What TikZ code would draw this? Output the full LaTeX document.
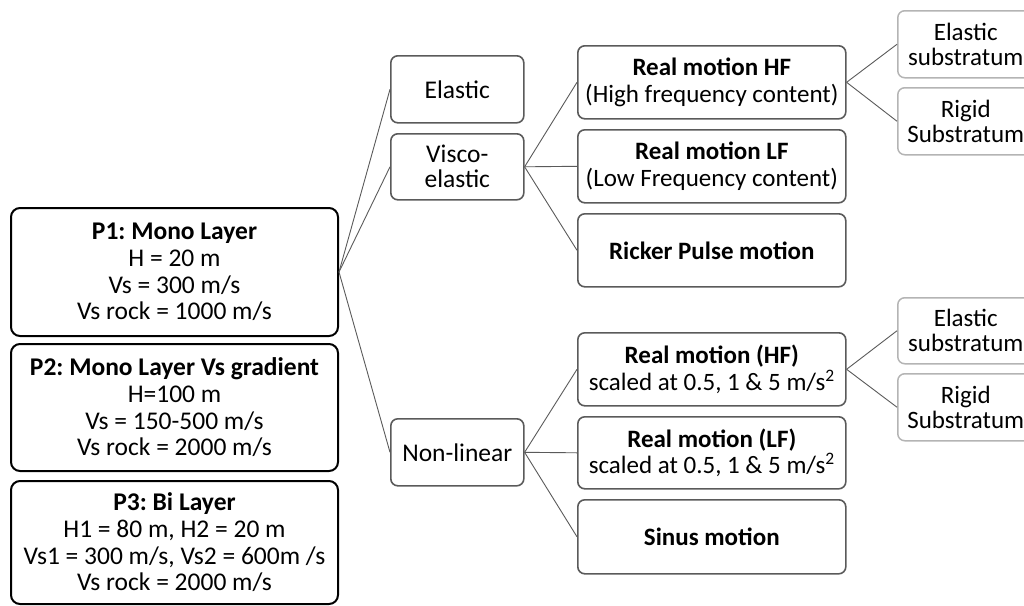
\documentclass[tikz,border=0pt]{standalone}
\usepackage{fontspec}
\setmainfont{Carlito}
\frenchspacing
\usepackage{tikz}
\usetikzlibrary{calc}
\definecolor{boxgray}{HTML}{5A5A5A}
\definecolor{lightgray}{HTML}{B4B4B4}
\tikzstyle{profile} = [rectangle, rounded corners=9pt, draw=black, line width=2pt, minimum width=327pt, minimum height=128pt, align=center, font=\fontsize{25.5}{26.7}\selectfont]
\tikzstyle{law} = [rectangle, rounded corners=7pt, draw=boxgray, line width=1.6pt, minimum width=133pt, minimum height=67pt, align=center, font=\fontsize{25.5}{25}\selectfont]
\tikzstyle{motion} = [rectangle, rounded corners=7pt, draw=boxgray, line width=1.6pt, minimum width=268pt, minimum height=73pt, align=center, font=\fontsize{25}{26.7}\selectfont]
\tikzstyle{base} = [rectangle, rounded corners=7pt, draw=lightgray, line width=1.5pt, minimum width=136pt, minimum height=67pt, align=center, font=\fontsize{25}{25}\selectfont]
\tikzstyle{link} = [draw=boxgray, line width=0.9pt]

\begin{document}
\begin{tikzpicture}[x=1pt, y=-1pt]

        \useasboundingbox (0,0) rectangle (1024,605);

        \node (p1) [profile, anchor=north west] at (10,207) {\textbf{P1: Mono Layer}\\H = 20 m\\Vs = 300 m/s\\Vs rock = 1000 m/s};
        \node (p2) [profile, anchor=north west, minimum height=127pt] at (10,343) {\textbf{P2: Mono Layer Vs gradient}\\H=100 m\\Vs = 150-500 m/s\\Vs rock = 2000 m/s};
        \node (p3) [profile, anchor=north west, minimum height=123pt] at (10,480) {\textbf{P3: Bi Layer}\\H1 = 80 m, H2 = 20 m\\Vs1 = 300 m/s, Vs2 = 600m /s\\Vs rock = 2000 m/s};

        \node (elastic) [law, anchor=north west] at (390,55) {Elastic};
        \node (visco) [law, anchor=north west, minimum height=66pt] at (390,133) {Visco-\\elastic};
        \node (nonlin) [law, anchor=north west] at (390,418) {Non-linear};

        \node (rhf) [motion, anchor=north west] at (577,45) {\textbf{Real motion HF}\\(High frequency content)};
        \node (rlf) [motion, anchor=north west] at (577,129) {\textbf{Real motion LF}\\(Low Frequency content)};
        \node (ricker) [motion, anchor=north west] at (577,213) {\textbf{Ricker Pulse motion}};

        \node (nhf) [motion, anchor=north west] at (577,332) {\textbf{Real motion (HF)}\\scaled at 0.5, 1 \& 5 m/s\textsuperscript{2}};
        \node (nlf) [motion, anchor=north west, minimum height=72pt] at (577,416) {\textbf{Real motion (LF)}\\scaled at 0.5, 1 \& 5 m/s\textsuperscript{2}};
        \node (sinus) [motion, anchor=north west, minimum height=74pt] at (577,499) {\textbf{Sinus motion}};

        \node (esub1) [base, anchor=north west] at (897,10) {Elastic\\substratum};
        \node (rsub1) [base, anchor=north west] at (897,87) {Rigid\\Substratum};
        \node (esub2) [base, anchor=north west, minimum height=66pt] at (897,297) {Elastic\\substratum};
        \node (rsub2) [base, anchor=north west] at (897,373) {Rigid\\Substratum};

        \draw [link] (p1.east) -- (elastic.west);
        \draw [link] (p1.east) -- (visco.west);
        \draw [link] (p1.east) -- (nonlin.west);

        \draw [link] (visco.east) -- (rhf.west);
        \draw [link] (visco.east) -- (rlf.west);
        \draw [link] (visco.east) -- (ricker.west);

        \draw [link] (nonlin.east) -- (nhf.west);
        \draw [link] (nonlin.east) -- (nlf.west);
        \draw [link] (nonlin.east) -- (sinus.west);

        \draw [link] (rhf.east) -- (esub1.west);
        \draw [link] (rhf.east) -- (rsub1.west);
        \draw [link] (nhf.east) -- (esub2.west);
        \draw [link] (nhf.east) -- (rsub2.west);

    \end{tikzpicture}
\end{document}
